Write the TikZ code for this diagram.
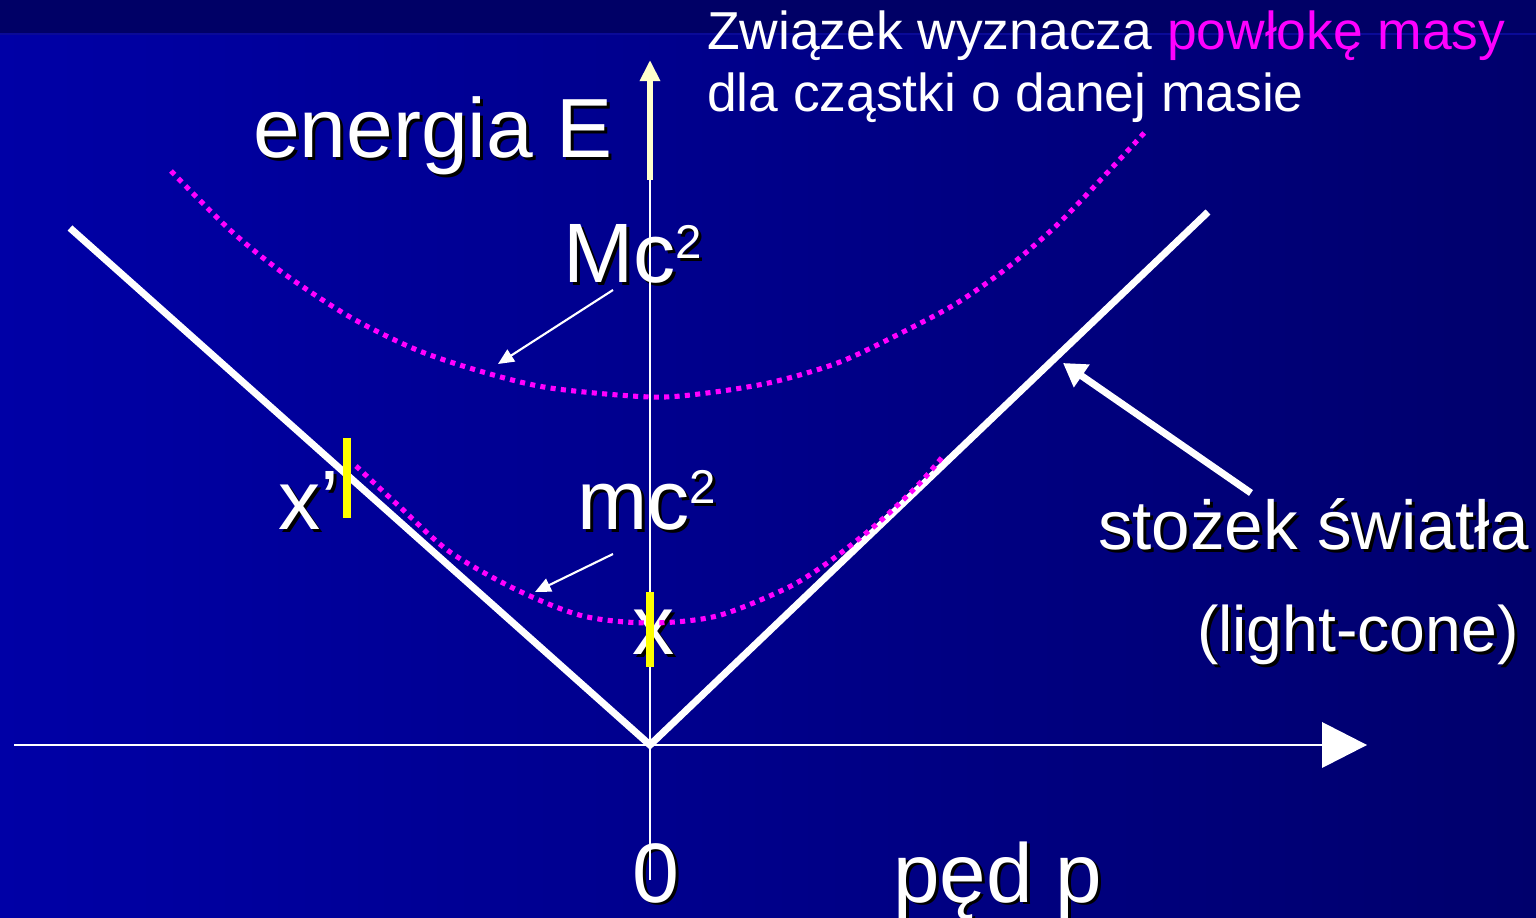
\documentclass[tikz,border=0pt]{standalone}
\usepackage{fontspec}
\setmainfont{Liberation Sans}
\usetikzlibrary{arrows.meta,calc}
\definecolor{bgL}{HTML}{0000A6}
\definecolor{bgR}{HTML}{00006C}
\definecolor{band}{HTML}{000066}
\definecolor{bandline}{HTML}{0A0A98}
\definecolor{mag}{HTML}{FF00FF}
\definecolor{paleyel}{HTML}{FFFFCC}
\definecolor{yel}{HTML}{FFFF00}
\newcommand\fs[1]{\fontsize{#1}{#1}\selectfont}
\newcommand\supr[3]{\raisebox{#1}{\fs{#2}#3}}
\newcommand\shtxt[5]{%
  \node[lbl,black] (#1s) at (#2+3,#3+3) {\fs{#4}#5};
  \node[lbl,white] (#1) at (#2,#3) {\fs{#4}#5};}
\begin{document}
\begin{tikzpicture}[x=0.02cm,y=-0.02cm,
  lbl/.style={anchor=base west, inner sep=0pt, outer sep=0pt},
  axisline/.style={white, line width=1.1pt},
  cone/.style={white, line width=4pt, miter limit=20},
  shell/.style={mag, line width=2.9pt, dash pattern=on 2.9pt off 3.0pt},
  thinarrow/.style={white, line width=1.2pt, -{Triangle[length=9pt,width=8pt]}},
  bigarrow/.style={white, line width=4pt, -{Triangle[length=13pt,width=15pt]}},
  tick/.style={yel, line width=4pt}]
\useasboundingbox (0,0) rectangle (1536,918);
% background
\shade[left color=bgL, right color=bgR] (0,0) rectangle (1536,918);
\fill[band] (0,0) rectangle (1536,33);
\draw[bandline, line width=1.2pt] (0,34) -- (1536,34);
% texts with shadow
\shtxt{en}{253}{158}{47.8pt}{energia E}
\shtxt{Mc}{563}{283}{48pt}{Mc\supr{14pt}{27pt}{2}}
\shtxt{mc}{577}{530}{48pt}{mc\supr{15pt}{27pt}{2}}
\shtxt{xp}{278}{530}{48pt}{x’}
\shtxt{xx}{632}{655}{48pt}{x}
\shtxt{zero}{632}{902}{48pt}{0}
\shtxt{ped}{893}{902}{47.6pt}{pęd p}
\shtxt{stoz}{1098}{550}{39.4pt}{stożek światła}
\shtxt{lc}{1197}{652}{36.6pt}{(light-cone)}
\node[lbl,white] (t1) at (707,50) {\fs{30.4pt}Związek wyznacza \textcolor{mag}{powłokę masy}};
\node[lbl,white] (t2) at (707,112) {\fs{30.4pt}dla cząstki o danej masie};
% axes
\coordinate (O) at (650,745);
\coordinate (hL) at (14,745);
\coordinate (hR) at (1330,745);
\coordinate (vB) at (650,880);
\coordinate (vT) at (650,180);
\coordinate (vTip) at (650,60);
\draw[axisline] (hL) -- (hR);
\fill[white] (1322,722) -- (1367,745) -- (1322,768) -- cycle;
\draw[axisline] (vB) -- (vT);
\draw[paleyel, line width=3.4pt, -{Triangle[length=12pt,width=11pt]}] (vT) -- (vTip);
% light cone
\coordinate (cL) at (70,228);
\coordinate (cR) at (1208,212);
\draw[cone] (cL) -- (O) -- (cR);
% mass shells
\draw[shell] plot[smooth] coordinates {(171,171) (230,230) (283,273) (350,317) (417,350) (483,372) (550,388) (650,397) (707,393) (773,382) (840,362) (905,331) (957,303) (1007,268) (1057,225) (1107,173) (1146,131)};
\draw[shell] plot[smooth] coordinates {(356,466) (400,507) (450,552) (517,590) (583,616) (650,623) (717,616) (785,589) (823,566) (860,538) (887,515) (920,483) (944,455)};
% pointer arrows
\coordinate (McA) at (613,290);
\coordinate (McB) at (498,364);
\coordinate (mcA) at (613,554);
\coordinate (mcB) at (535,592);
\coordinate (stA) at (1251,493);
\coordinate (stB) at (1063,363);
\draw[thinarrow] (McA) -- (McB);
\draw[thinarrow] (mcA) -- (mcB);
\draw[bigarrow] (stA) -- (stB);
% ticks
\coordinate (t1a) at (347,438);
\coordinate (t1b) at (347,518);
\coordinate (t2a) at (650,592);
\coordinate (t2b) at (650,667);
\draw[tick] (t1a) -- (t1b);
\draw[tick] (t2a) -- (t2b);
\end{tikzpicture}
\end{document}
